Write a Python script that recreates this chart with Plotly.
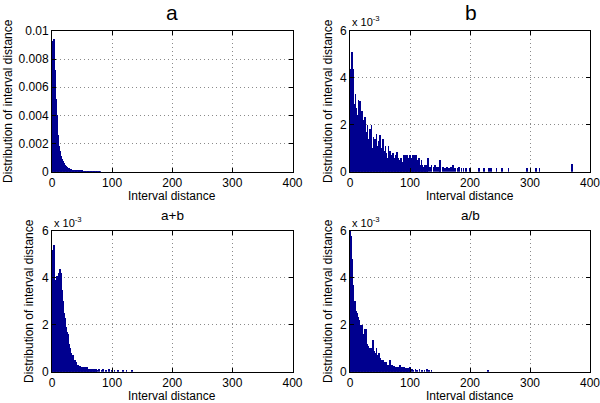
import plotly.graph_objects as go

# ---------------- data ----------------
# panel a: distribution values for interval distance bins 0..80
a_bins = list(range(0, 81))
a_vals = [0.0088, 0.0090, 0.0093, 0.0094, 0.0085, 0.0072, 0.0061, 0.0052, 0.0040, 0.0032,
          0.0026, 0.0022, 0.0018, 0.0015, 0.0013, 0.0011, 0.00098, 0.00088, 0.00078, 0.00070,
          0.00062, 0.00056, 0.00050, 0.00044, 0.00039, 0.00035, 0.00030, 0.00026, 0.00023, 0.00021,
          0.00019, 0.00017, 0.00016, 0.00015, 0.00014, 0.00013, 0.00012, 0.00012, 0.00011, 0.00010,
          0.00010, 0.00009, 0.00009, 0.00008, 0.00008, 0.00007, 0.00007, 0.00007, 0.00006, 0.00006,
          0.00006, 0.00005, 0.00005, 0.00005, 0.00005, 0.00004, 0.00004, 0.00004, 0.00004, 0.00004,
          0.00003, 0.00003, 0.00003, 0.00003, 0.00003, 0.00003, 0.00002, 0.00002, 0.00002, 0.00002,
          0.00002, 0.00002, 0.00002, 0.00002, 0.00001, 0.00001, 0.00001, 0.00001, 0.00001, 0.00001,
          0.00001]

# panel b (values in units of 1e-3)
b_bins = list(range(0, 131))
b_vals = [1.4, 4.4, 4.4, 5.1, 4.9, 4.4, 3.6, 2.6, 2.9, 3.3,
          2.2, 2.7, 1.9, 2.4, 3.05, 1.6, 2.3, 3.0, 1.5, 2.0,
          2.6, 1.3, 1.8, 2.2, 1.2, 2.35, 1.5, 1.1, 1.7, 2.0,
          0.9, 1.4, 1.1, 1.8, 0.8, 1.3, 2.0, 1.0, 0.7, 1.5,
          1.2, 0.6, 1.4, 0.9, 1.6, 0.7, 1.1, 0.5, 1.3, 0.8,
          1.55, 0.6, 1.0, 0.4, 1.2, 1.4, 0.5, 0.9, 0.7, 1.1,
          0.4, 0.8, 0.6, 0.3, 1.1, 0.6, 0.4, 0.9, 0.5, 0.7,
          0.6, 0.3, 0.8, 0.5, 0.6, 0.3, 0.7, 0.4, 0.85, 0.3,
          0.6, 0.4, 0.2, 0.5, 0.3, 0.6, 0.2, 0.4, 0.3, 0.7,
          0.2, 0.5, 0.7, 0.3, 0.4, 0.7, 0.2, 0.5, 0.6, 0.3,
          0.7, 0.4, 0.2, 0.6, 0.4, 0.7, 0.3, 0.5, 0.7, 0.2,
          0.4, 0.7, 0.3, 0.5, 0.2, 0.6, 0.4, 0.1, 0.3, 0.5,
          0.2, 0.3, 0.1, 0.2, 0.3, 0.1, 0.2, 0.3, 0.1, 0.2,
          0.6]
b_tail_bins = [133, 136, 139, 142, 145, 148, 150, 151, 155, 158, 162, 165, 168, 172, 175,
               179, 182, 186, 189, 193, 199, 201, 215, 223, 232, 235, 244, 253, 264, 295,
               310, 316, 370]
b_tail_vals = [0.2, 0.3, 0.2, 0.3, 0.2, 0.2, 0.5, 0.45, 0.2, 0.15, 0.2, 0.15, 0.2, 0.3, 0.15,
               0.15, 0.2, 0.15, 0.15, 0.15, 0.15, 0.15, 0.15, 0.15, 0.15, 0.15, 0.15, 0.15, 0.15, 0.15,
               0.15, 0.15, 0.33]

# panel a+b (values in units of 1e-3)
ab_bins = list(range(0, 76))
ab_vals = [1.3, 4.0, 5.2, 5.4, 4.6, 3.9, 3.6, 3.5, 4.1, 3.6,
           3.2, 3.5, 4.2, 4.4, 4.3, 4.2, 3.6, 3.5, 3.0, 2.7,
           2.5, 2.3, 2.3, 1.9, 1.6, 1.5, 1.7, 1.6, 1.2, 1.1,
           1.0, 0.9, 0.8, 0.7, 0.6, 0.7, 0.6, 0.5, 0.4, 0.5,
           0.4, 0.35, 0.3, 0.25, 0.3, 0.25, 0.2, 0.25, 0.2, 0.15,
           0.2, 0.15, 0.2, 0.1, 0.15, 0.2, 0.1, 0.15, 0.2, 0.1,
           0.1, 0.1, 0.05, 0.1, 0.05, 0.1, 0.1, 0.05, 0.1, 0.05,
           0.1, 0.05, 0.1, 0.05, 0.1, 0.05]
ab_tail_bins = [78, 82, 85, 90, 95, 100, 104, 110, 118, 124, 133]
ab_tail_vals = [0.1, 0.05, 0.1, 0.05, 0.1, 0.05, 0.05, 0.05, 0.05, 0.05, 0.05]

# panel a/b (values in units of 1e-3)
adb_bins = list(range(0, 101))
adb_vals = [1.0, 6.3, 5.8, 4.8, 4.2, 3.7, 3.3, 2.8, 3.0, 2.5,
            2.6, 2.4, 2.5, 2.3, 2.35, 2.0, 2.2, 1.9, 2.0, 1.7,
            2.0, 1.5, 1.6, 1.4, 1.8, 1.2, 1.3, 1.8, 1.1, 1.2,
            1.0, 1.1, 0.9, 1.0, 0.8, 1.0, 0.9, 0.7, 1.35, 0.8,
            0.9, 0.6, 0.8, 0.7, 1.0, 0.6, 0.7, 0.5, 0.8, 0.6,
            0.5, 0.6, 0.4, 0.5, 0.4, 0.5, 0.3, 0.4, 0.35, 0.3,
            0.4, 0.3, 0.25, 0.3, 0.2, 0.3, 0.25, 0.5, 0.2, 0.25,
            0.3, 0.2, 0.2, 0.25, 0.15, 0.2, 0.2, 0.15, 0.2, 0.15,
            0.2, 0.2, 0.15, 0.3, 0.15, 0.2, 0.15, 0.15, 0.2, 0.1,
            0.15, 0.2, 0.1, 0.15, 0.1, 0.15, 0.1, 0.1, 0.15, 0.1,
            0.2]
adb_tail_bins = [103, 106, 109, 112, 116, 120, 124, 128, 132, 136, 230]
adb_tail_vals = [0.1, 0.05, 0.1, 0.05, 0.1, 0.05, 0.05, 0.1, 0.05, 0.05, 0.07]

x_ticks = [0, 100, 200, 300, 400]
a_yticks = [0, 0.002, 0.004, 0.006, 0.008, 0.01]
a_yticklabels = ["0", "0.002", "0.004", "0.006", "0.008", "0.01"]
e3_yticks = [0, 2, 4, 6]
e3_yticklabels = ["0", "2", "4", "6"]

panel_titles = ["a", "b", "a+b", "a/b"]
x_title = "Interval distance"
y_title = "Distribution of interval distance"

# ---------------- figure ----------------
W, H = 600, 403
BAR = "#00008F"
FONT = "Liberation Sans, Arial, Helvetica, sans-serif"

def px(x):
    return x / W

def py(y):
    return 1 - y / H

xdom = [[px(52), px(292.5)], [px(350), px(590)]]
ydom = [[py(171.7), py(31)], [py(371.7), py(231)]]

fig = go.Figure()

panels = [
    (a_bins, a_vals, [], [], 0, 0),
    (b_bins, b_vals, b_tail_bins, b_tail_vals, 1, 0),
    (ab_bins, ab_vals, ab_tail_bins, ab_tail_vals, 0, 1),
    (adb_bins, adb_vals, adb_tail_bins, adb_tail_vals, 1, 1),
]

for i, (bx, bv, tx, tv, col, row) in enumerate(panels):
    n = i + 1
    xa = "x" if n == 1 else f"x{n}"
    ya = "y" if n == 1 else f"y{n}"
    fig.add_trace(go.Bar(x=bx + tx, y=bv + tv, width=1, marker=dict(color=BAR, line=dict(width=0)),
                         xaxis=xa, yaxis=ya, showlegend=False, hoverinfo="skip"))
    axis_common = dict(showline=True, linecolor="black", linewidth=1, mirror="ticks",
                       ticks="inside", ticklen=4, tickwidth=1, tickcolor="black",
                       showgrid=True, gridcolor="#8a8a8a", gridwidth=1, griddash="1px,3px",
                       zeroline=False, automargin=False, ticklabeloverflow="allow",
                       tickfont=dict(family=FONT, size=12, color="black"))
    xkey = "xaxis" if n == 1 else f"xaxis{n}"
    ykey = "yaxis" if n == 1 else f"yaxis{n}"
    fig.update_layout({
        xkey: dict(domain=xdom[col], anchor=ya, range=[0, 400], tickvals=x_ticks,
                   ticktext=[str(t) for t in x_ticks], **axis_common),
        ykey: dict(domain=ydom[row], anchor=xa,
                   range=[0, 0.01] if n == 1 else [0, 6],
                   tickvals=a_yticks if n == 1 else e3_yticks,
                   ticktext=a_yticklabels if n == 1 else e3_yticklabels, **axis_common),
    })

annotations = []
# panel titles
title_pos = [(172, 13, 21), (471, 13, 21), (172, 216, 13.5), (470, 216, 13.5)]
for t, (x, y, s) in zip(panel_titles, title_pos):
    annotations.append(dict(text=t, x=px(x), y=py(y), xref="paper", yref="paper",
                            xanchor="center", yanchor="middle", showarrow=False,
                            font=dict(family=FONT, size=s, color="black")))
# x titles
for x, y in [(172, 196), (470, 196), (172, 396), (470, 396)]:
    annotations.append(dict(text=x_title, x=px(x), y=py(y), xref="paper", yref="paper",
                            xanchor="center", yanchor="middle", showarrow=False,
                            font=dict(family=FONT, size=12, color="black")))
# y titles
for x, y in [(8, 101), (328, 101), (29, 301), (328, 301)]:
    annotations.append(dict(text=y_title, x=px(x), y=py(y), xref="paper", yref="paper",
                            xanchor="center", yanchor="middle", showarrow=False, textangle=-90,
                            font=dict(family=FONT, size=12, color="black")))
# exponent labels
for x, y in [(350, 21), (52, 222), (350, 222)]:
    annotations.append(dict(text="x 10<sup>-3</sup>", x=px(x), y=py(y), xref="paper", yref="paper",
                            xanchor="left", yanchor="middle", showarrow=False,
                            font=dict(family=FONT, size=11, color="black")))

fig.update_layout(width=W, height=H, margin=dict(l=0, r=0, t=0, b=0),
                  paper_bgcolor="white", plot_bgcolor="white", bargap=0,
                  annotations=annotations, showlegend=False)

fig.write_html("out.html", config={"displayModeBar": False},
               post_script="document.body.style.margin='0px';document.body.style.padding='0px';")
